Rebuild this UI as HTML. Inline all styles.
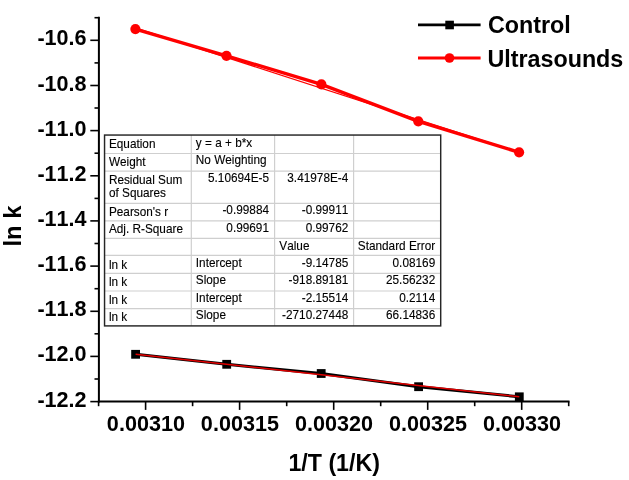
<!DOCTYPE html>
<html lang="en"><head><meta charset="utf-8"><title>ln k vs 1/T</title>
<style>html,body{margin:0;padding:0;background:#fff}body{width:629px;height:480px;overflow:hidden}</style></head>
<body>
<svg width="629" height="480" viewBox="0 0 629 480" style="display:block">
<rect width="629" height="480" fill="#fff"/>
<g stroke="#000" stroke-width="2.0" fill="none" stroke-linecap="butt">
<path d="M98.9 16.8V402.4"/>
<path d="M97.9 401.4H569.5"/>
</g>
<g stroke="#000" stroke-width="1.6" fill="none">
<path d="M90.3 40.3H98.9"/>
<path d="M90.3 85.5H98.9"/>
<path d="M90.3 130.6H98.9"/>
<path d="M90.3 175.8H98.9"/>
<path d="M90.3 220.9H98.9"/>
<path d="M90.3 266.1H98.9"/>
<path d="M90.3 311.3H98.9"/>
<path d="M90.3 356.4H98.9"/>
<path d="M90.3 401.6H98.9"/>
<path d="M94.5 17.7H98.9"/>
<path d="M94.5 62.9H98.9"/>
<path d="M94.5 108.0H98.9"/>
<path d="M94.5 153.2H98.9"/>
<path d="M94.5 198.4H98.9"/>
<path d="M94.5 243.5H98.9"/>
<path d="M94.5 288.7H98.9"/>
<path d="M94.5 333.8H98.9"/>
<path d="M94.5 379.0H98.9"/>
<path d="M145.6 401.4V409.9"/>
<path d="M239.6 401.4V409.9"/>
<path d="M333.7 401.4V409.9"/>
<path d="M427.7 401.4V409.9"/>
<path d="M521.7 401.4V409.9"/>
<path d="M98.6 401.4V406.2"/>
<path d="M192.6 401.4V406.2"/>
<path d="M286.7 401.4V406.2"/>
<path d="M380.7 401.4V406.2"/>
<path d="M474.7 401.4V406.2"/>
<path d="M568.7 401.4V406.2"/>
</g>
<g font-family="'Liberation Sans', Arial, sans-serif" font-weight="700" font-size="21.6" fill="#000" style="font-kerning:none">
<text transform="translate(86.6 45.3) scale(1 1.05)" text-anchor="end">-10.6</text>
<text transform="translate(86.6 90.5) scale(1 1.05)" text-anchor="end">-10.8</text>
<text transform="translate(86.6 135.6) scale(1 1.05)" text-anchor="end">-11.0</text>
<text transform="translate(86.6 180.8) scale(1 1.05)" text-anchor="end">-11.2</text>
<text transform="translate(86.6 225.9) scale(1 1.05)" text-anchor="end">-11.4</text>
<text transform="translate(86.6 271.1) scale(1 1.05)" text-anchor="end">-11.6</text>
<text transform="translate(86.6 316.3) scale(1 1.05)" text-anchor="end">-11.8</text>
<text transform="translate(86.6 361.4) scale(1 1.05)" text-anchor="end">-12.0</text>
<text transform="translate(86.6 406.6) scale(1 1.05)" text-anchor="end">-12.2</text>
<text transform="translate(145.9 430.7) scale(1 1.06)" text-anchor="middle">0.00310</text>
<text transform="translate(239.9 430.7) scale(1 1.06)" text-anchor="middle">0.00315</text>
<text transform="translate(334.0 430.7) scale(1 1.06)" text-anchor="middle">0.00320</text>
<text transform="translate(428.0 430.7) scale(1 1.06)" text-anchor="middle">0.00325</text>
<text transform="translate(522.0 430.7) scale(1 1.06)" text-anchor="middle">0.00330</text>
</g>
<g font-family="'Liberation Sans', Arial, sans-serif" font-weight="700" font-size="23.5" fill="#000" style="font-kerning:none">
<text x="334.2" y="470.5" text-anchor="middle" font-size="23.2">1/T (1/K)</text>
<text transform="translate(20.5 226.1) rotate(-90) scale(1.01 0.985)" text-anchor="middle">ln k</text>
<text x="488" y="33.3" font-size="23.3">Control</text>
<text x="487.4" y="67" font-size="23.3">Ultrasounds</text>
</g>
<path d="M418 24.9H480.6" stroke="#000" stroke-width="2.8"/>
<rect x="445.3" y="20.7" width="8.6" height="8.6" fill="#000"/>
<path d="M418 58H480.6" stroke="#f00" stroke-width="2.8"/>
<circle cx="449.5" cy="58" r="4.8" fill="#f00"/>
<path d="M135.4 29.1 L226.5 55.8 L321.4 84.4 L418.3 121.3 L519.1 152.3" stroke="#f00" stroke-width="3.4" fill="none" stroke-linejoin="round"/>
<path d="M135.4 27.900000000000002L519.1 152.3" stroke="#f00" stroke-width="1.2" fill="none"/>
<circle cx="135.4" cy="29.1" r="5.1" fill="#f00"/>
<circle cx="226.5" cy="55.8" r="5.1" fill="#f00"/>
<circle cx="321.4" cy="84.4" r="5.1" fill="#f00"/>
<circle cx="418.3" cy="121.3" r="5.1" fill="#f00"/>
<circle cx="519.1" cy="152.3" r="5.1" fill="#f00"/>
<path d="M135.6 354.3 L226.7 364.3 L321.2 373.5 L418.6 386.7 L519.3 396.8" stroke="#000" stroke-width="3.0" fill="none" stroke-linejoin="round"/>
<rect x="131.2" y="349.9" width="8.8" height="8.8" fill="#000"/>
<rect x="222.3" y="359.9" width="8.8" height="8.8" fill="#000"/>
<rect x="316.8" y="369.1" width="8.8" height="8.8" fill="#000"/>
<rect x="414.2" y="382.3" width="8.8" height="8.8" fill="#000"/>
<rect x="514.9" y="392.4" width="8.8" height="8.8" fill="#000"/>
<path d="M135.6 354.2L519.3 396.7" stroke="#e00000" stroke-width="1.5" fill="none"/>
<rect x="104.55" y="135.05" width="336.15" height="190.84999999999997" fill="#fff"/>
<g stroke="#cfcfcf" stroke-width="1.2" fill="none">
<path d="M191.3 135.05V325.9"/>
<path d="M274.6 135.05V325.9"/>
<path d="M353.6 135.05V325.9"/>
<path d="M104.55 153.5H440.7"/>
<path d="M104.55 171.1H440.7"/>
<path d="M104.55 203.4H440.7"/>
<path d="M104.55 220.8H440.7"/>
<path d="M104.55 238.4H440.7"/>
<path d="M104.55 255.3H440.7"/>
<path d="M104.55 273.3H440.7"/>
<path d="M104.55 291.0H440.7"/>
<path d="M104.55 308.6H440.7"/>
</g>
<rect x="104.55" y="135.05" width="336.15" height="190.84999999999997" fill="none" stroke="#262626" stroke-width="1.45"/>
<g font-family="'Liberation Sans', Arial, sans-serif" font-size="11.8" fill="#000" stroke="#000" stroke-width="0.12" style="font-kerning:none">
<text transform="translate(108.9 148.2) scale(1 1.035)">Equation</text>
<text transform="translate(195.8 146.5) scale(1 1.035)">y = a + b*x</text>
<text transform="translate(108.9 165.6) scale(1 1.035)">Weight</text>
<text transform="translate(195.8 163.8) scale(1 1.035)">No Weighting</text>
<text transform="translate(108.9 183.6) scale(1 1.035)">Residual Sum</text>
<text transform="translate(108.9 196.8) scale(1 1.035)">of Squares</text>
<text transform="translate(269.0 182.1) scale(1 1.035)" text-anchor="end">5.10694E-5</text>
<text transform="translate(348.3 182.1) scale(1 1.035)" text-anchor="end">3.41978E-4</text>
<text transform="translate(108.9 215.8) scale(1 1.035)">Pearson's r</text>
<text transform="translate(269.0 213.8) scale(1 1.035)" text-anchor="end">-0.99884</text>
<text transform="translate(348.3 213.8) scale(1 1.035)" text-anchor="end">-0.99911</text>
<text transform="translate(108.9 232.9) scale(1 1.035)">Adj. R-Square</text>
<text transform="translate(269.0 231.6) scale(1 1.035)" text-anchor="end">0.99691</text>
<text transform="translate(348.3 231.6) scale(1 1.035)" text-anchor="end">0.99762</text>
<text transform="translate(279.3 249.5) scale(1 1.035)">Value</text>
<text transform="translate(357.8 249.5) scale(1 1.035)">Standard Error</text>
<text transform="translate(108.9 268.7) scale(1 1.035)">ln k</text>
<text transform="translate(195.8 266.5) scale(1 1.035)">Intercept</text>
<text transform="translate(348.3 266.5) scale(1 1.035)" text-anchor="end">-9.14785</text>
<text transform="translate(435.2 266.5) scale(1 1.035)" text-anchor="end">0.08169</text>
<text transform="translate(108.9 286.09999999999997) scale(1 1.035)">ln k</text>
<text transform="translate(195.8 283.9) scale(1 1.035)">Slope</text>
<text transform="translate(348.3 283.9) scale(1 1.035)" text-anchor="end">-918.89181</text>
<text transform="translate(435.2 283.9) scale(1 1.035)" text-anchor="end">25.56232</text>
<text transform="translate(108.9 303.7) scale(1 1.035)">ln k</text>
<text transform="translate(195.8 301.5) scale(1 1.035)">Intercept</text>
<text transform="translate(348.3 301.5) scale(1 1.035)" text-anchor="end">-2.15514</text>
<text transform="translate(435.2 301.5) scale(1 1.035)" text-anchor="end">0.2114</text>
<text transform="translate(108.9 321.2) scale(1 1.035)">ln k</text>
<text transform="translate(195.8 319) scale(1 1.035)">Slope</text>
<text transform="translate(348.3 319) scale(1 1.035)" text-anchor="end">-2710.27448</text>
<text transform="translate(435.2 319) scale(1 1.035)" text-anchor="end">66.14836</text>
</g>
</svg>
</body></html>
